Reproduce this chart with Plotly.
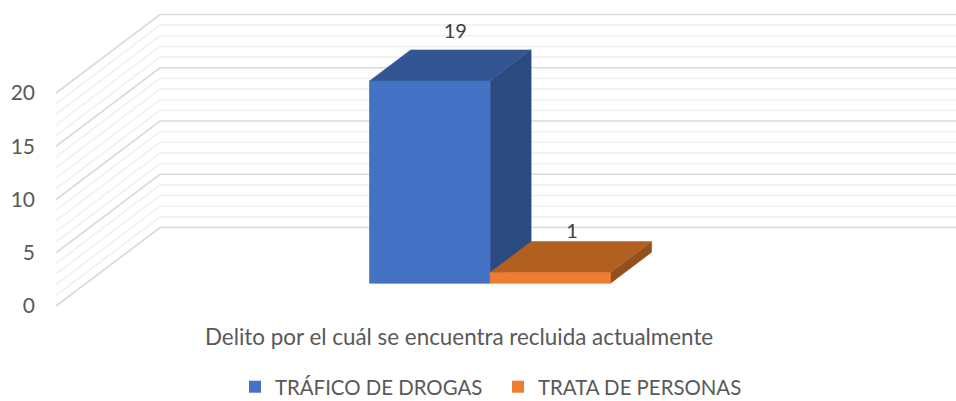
import plotly.graph_objects as go

# ---- data ----
series_names = ["TRÁFICO DE DROGAS", "TRATA DE PERSONAS"]
series_values = [19, 1]
tick_values = [0, 5, 10, 15, 20]
tick_labels = ["0", "5", "10", "15", "20"]
grid_values = list(range(0, 21))
axis_title = "Delito por el cuál se encuentra recluida actualmente"

# ---- style / projection ----
FONT = "Lato"
TXT = "#595959"
FRONT = ["#4472C4", "#ED7D31"]
TOP = ["#335593", "#B25F22"]
SIDE = ["#2A4A80", "#944F1C"]
DX, DY = 104.0, 7.37          # screen shift of full depth (x units, value units)
D1, D2 = 0.29, 0.685          # bar depth span
X0, BW = 283.4, 120.5         # first bar left edge, bar width
X_END = 900
LBL_D = [0.535, 0.5]
LBL_LIFT = [2.65, 2.15]


def proj(x, v, d):
    return x + DX * d, v + DY * d


def poly(corners):
    pts = [proj(*c) for c in corners]
    xs = [p[0] for p in pts] + [pts[0][0]]
    ys = [p[1] for p in pts] + [pts[0][1]]
    return xs, ys


fig = go.Figure()

# wall gridlines
shapes = []
for g in grid_values:
    major = g % 5 == 0
    x1, y1 = proj(0, g, 0)
    x2, y2 = proj(0, g, 1)
    style = dict(color="#D9D9D9" if major else "#F0F0F0", width=1.6)
    shapes.append(dict(type="path", layer="below", xref="x", yref="y",
                       path=f"M{x1},{y1} L{x2},{y2} L{X_END},{y2}", line=style))

# bars: real bars give front faces and legend
for i, (n, v) in enumerate(zip(series_names, series_values)):
    left = X0 + i * BW
    fx, fy = proj(left, 0, D1)
    fig.add_trace(go.Bar(x=[fx + BW / 2], y=[v], base=[fy], width=[BW], name=n,
                         marker=dict(color=FRONT[i], line=dict(width=0)),
                         hoverinfo="name+y"))

# 3-D faces
for i, v in enumerate(series_values):
    l, r = X0 + i * BW, X0 + (i + 1) * BW
    faces = [
        (poly([(r, 0, D1), (r, 0, D2), (r, v, D2), (r, v, D1)]), SIDE[i]),
        (poly([(l, v, D1), (l, v, D2), (r, v, D2), (r, v, D1)]), TOP[i]),
        (poly([(l, 0, D1), (r, 0, D1), (r, v, D1), (l, v, D1)]), FRONT[i]),
    ]
    for (xs, ys), col in faces:
        fig.add_trace(go.Scatter(x=xs, y=ys, mode="lines", fill="toself",
                                 fillcolor=col, line=dict(color=col, width=0.5),
                                 showlegend=False, hoverinfo="skip"))

# data labels
for i, v in enumerate(series_values):
    lx, ly = proj(X0 + (i + 0.5) * BW, v + LBL_LIFT[i], LBL_D[i])
    fig.add_trace(go.Scatter(x=[lx], y=[ly], mode="text", text=[str(v)],
                             textposition="middle center",
                             textfont=dict(family=FONT, size=20, color="#404040"),
                             showlegend=False, hoverinfo="skip", cliponaxis=False))

PX_PER = 10.65
fig.update_layout(
    width=956, height=401, autosize=False,
    paper_bgcolor="white", plot_bgcolor="white",
    margin=dict(l=56, r=0, t=0, b=85),
    barmode="overlay",
    shapes=shapes,
    font=dict(family=FONT, color=TXT, size=20),
    xaxis=dict(range=[0, X_END], visible=False, fixedrange=True),
    yaxis=dict(range=[-10 / PX_PER, 306 / PX_PER], tickmode="array",
               tickvals=tick_values, ticktext=tick_labels, showgrid=False,
               zeroline=False, showline=False, ticks="", ticklabelstandoff=20,
               tickfont=dict(family=FONT, size=21, color=TXT), fixedrange=True),
    legend=dict(orientation="h", x=0.2458, y=0.035, xanchor="left", yanchor="middle",
                xref="container", yref="container", entrywidth=218, entrywidthmode="pixels",
                font=dict(family=FONT, size=20.4, color=TXT),
                bgcolor="rgba(0,0,0,0)", tracegroupgap=0),
    annotations=[dict(text=axis_title, xref="x", yref="paper", x=403, y=-0.064,
                      xanchor="center", yanchor="middle", showarrow=False,
                      font=dict(family=FONT, size=22.4, color=TXT))],
)
fig.write_html("out.html", config=dict(displayModeBar=False),
               post_script="document.body.style.margin='0';document.documentElement.style.overflow='hidden';")
